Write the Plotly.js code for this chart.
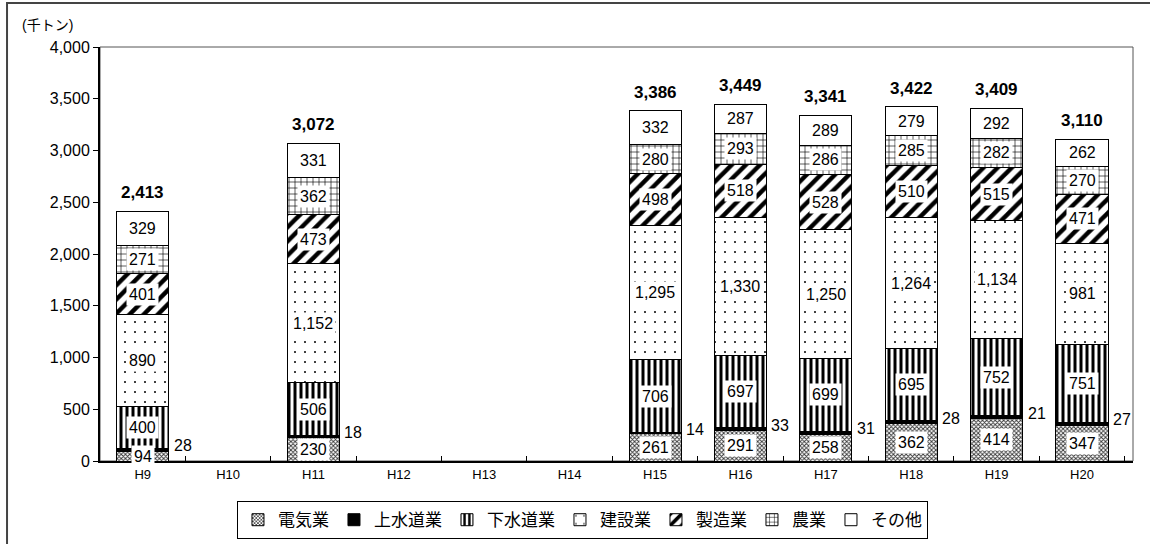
<!DOCTYPE html>
<html>
<head>
<meta charset="utf-8">
<script src="https://cdn.plot.ly/plotly-3.0.1.min.js"></script>
<style>html,body{margin:0;padding:0;background:#fff;}#chart{width:1150px;height:544px;}</style>
</head>
<body>
<div id="chart"></div>
<script>
const categories = ['H9','H10','H11','H12','H13','H14','H15','H16','H17','H18','H19','H20'];
const seriesNames = ['電気業','上水道業','下水道業','建設業','製造業','農業','その他'];
const denki    = [94, null, 230, null, null, null, 261, 291, 258, 362, 414, 347];
const jousui   = [28, null, 18, null, null, null, 14, 33, 31, 28, 21, 27];
const gesui    = [400, null, 506, null, null, null, 706, 697, 699, 695, 752, 751];
const kensetsu = [890, null, 1152, null, null, null, 1295, 1330, 1250, 1264, 1134, 981];
const seizou   = [401, null, 473, null, null, null, 498, 518, 528, 510, 515, 471];
const nougyou  = [271, null, 362, null, null, null, 280, 293, 286, 285, 282, 270];
const sonota   = [329, null, 331, null, null, null, 332, 287, 289, 279, 292, 262];
const totals   = [2413, null, 3072, null, null, null, 3386, 3449, 3341, 3422, 3409, 3110];

const seriesValues = [denki, jousui, gesui, kensetsu, seizou, nougyou, sonota];
const patterns = [
  {shape: 'x', fgcolor: '#333', bgcolor: '#fff', size: 3, solidity: 0.5},
  {shape: '', fgcolor: '#000', bgcolor: '#000'},
  {shape: '|', fgcolor: '#000', bgcolor: '#fff', size: 6, solidity: 0.5},
  {shape: '.', fgcolor: '#000', bgcolor: '#fff', size: 10, solidity: 0.03},
  {shape: '/', fgcolor: '#000', bgcolor: '#fff', size: 10, solidity: 0.45},
  {shape: '+', fgcolor: '#000', bgcolor: '#fff', size: 6, solidity: 0.2},
  {shape: '', fgcolor: '#fff', bgcolor: '#fff'}
];
const fillColors = ['#fff', '#000', '#fff', '#fff', '#fff', '#fff', '#fff'];

const FONT = 'Liberation Sans, Arial, Noto Sans CJK JP, sans-serif';

const traces = seriesNames.map((name, k) => ({
  type: 'bar',
  name: name,
  x: categories,
  y: seriesValues[k],
  width: 0.61,
  marker: {
    color: fillColors[k],
    line: {color: '#000', width: 1},
    pattern: patterns[k]
  },
  hoverinfo: 'x+y+name'
}));

const fmt = v => v.toLocaleString('en-US');
const annotations = [];
const base = categories.map(() => 0);
seriesValues.forEach((vals, k) => {
  vals.forEach((v, i) => {
    if (v === null) return;
    const mid = base[i] + v / 2;
    if (k === 1) {
      annotations.push({
        x: categories[i], y: mid, text: fmt(v), showarrow: false,
        xshift: 40, yshift: 4, font: {size: 16, color: '#000', family: FONT}
      });
    } else {
      annotations.push({
        x: categories[i], y: mid, text: fmt(v), showarrow: false,
        bgcolor: '#fff', borderpad: 2, font: {size: 16, color: '#000', family: FONT}
      });
    }
    base[i] += v;
  });
});
totals.forEach((t, i) => {
  if (t === null) return;
  annotations.push({
    x: categories[i], y: t, text: '<b>' + fmt(t) + '</b>', showarrow: false,
    yanchor: 'bottom', yshift: 7, font: {size: 17, color: '#000', family: FONT}
  });
});
annotations.push({
  xref: 'paper', yref: 'paper', x: -0.077, y: 1.053, xanchor: 'left', yanchor: 'middle',
  text: '(千トン)', showarrow: false, font: {size: 14, color: '#000', family: FONT}
});

const layout = {
  width: 1150, height: 544,
  margin: {l: 100, r: 17, t: 47, b: 83, autoexpand: false},
  paper_bgcolor: '#fff', plot_bgcolor: '#fff',
  barmode: 'stack',
  font: {family: FONT, color: '#000'},
  showlegend: true,
  legend: {
    orientation: 'h', traceorder: 'normal',
    x: 0.1326, xanchor: 'left', y: -0.097, yanchor: 'top',
    bordercolor: '#000', borderwidth: 1, bgcolor: '#fff',
    font: {size: 17, family: FONT}, itemwidth: 30
  },
  xaxis: {
    type: 'category', showline: true, linecolor: '#000', linewidth: 2,
    ticks: 'inside', tickson: 'boundaries', ticklen: 5, tickcolor: '#000',
    tickfont: {size: 13, family: FONT}, showgrid: false, fixedrange: true
  },
  yaxis: {
    range: [0, 4000], dtick: 500, tickformat: ',', showline: true, linecolor: '#000', linewidth: 2,
    ticks: 'outside', ticklen: 5, tickcolor: '#000', showgrid: false, zeroline: false,
    tickfont: {size: 16, family: FONT}, fixedrange: true
  },
  shapes: [
    {type: 'rect', xref: 'paper', yref: 'paper', x0: 0, x1: 1, y0: 0, y1: 1,
     line: {color: '#555', width: 1}, layer: 'below'},
    {type: 'rect', xref: 'paper', yref: 'paper', x0: -0.09, x1: 1.06, y0: -0.26, y1: 1.106,
     line: {color: '#444', width: 2}, fillcolor: 'rgba(0,0,0,0)'}
  ],
  annotations: annotations
};

Plotly.newPlot('chart', traces, layout, {displayModeBar: false, staticPlot: true});
</script>
</body>
</html>
